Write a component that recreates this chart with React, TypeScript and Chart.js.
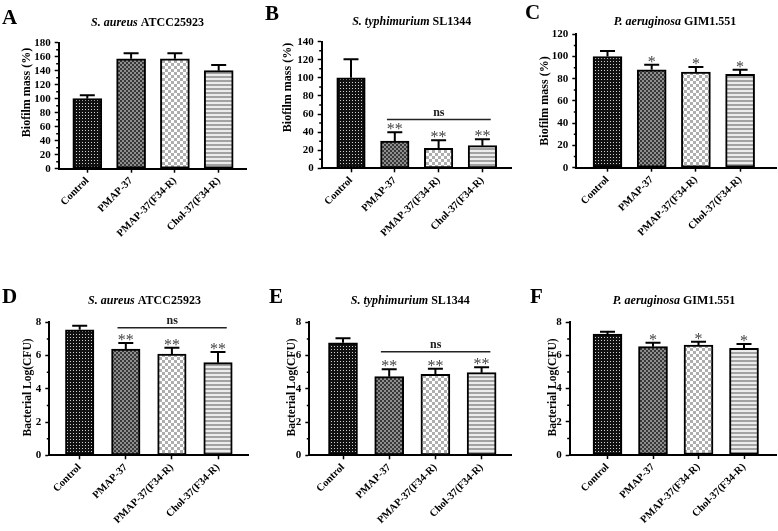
import React, { useEffect, useRef } from 'react';
import { Chart, registerables } from 'chart.js';

Chart.register(...registerables);

const FONT = '"Liberation Serif", "Times New Roman", serif';

// ---------- data ----------
const categories = ['Control', 'PMAP-37', 'PMAP-37(F34-R)', 'Chol-37(F34-R)'];

const biofilmSaureus = [100, 157, 157, 140];
const biofilmSaureusErr = [5, 8, 8, 8];
const biofilmStyphi = [100, 30, 22, 25];
const biofilmStyphiErr = [20.5, 10, 9, 7];
const biofilmPaer = [100, 88, 86, 84];
const biofilmPaerErr = [5, 4.5, 4.5, 4];

const logSaureus = [7.55, 6.39, 6.09, 5.57];
const logSaureusErr = [0.25, 0.36, 0.38, 0.64];
const logStyphi = [6.77, 4.73, 4.87, 4.97];
const logStyphiErr = [0.27, 0.44, 0.34, 0.32];
const logPaer = [7.29, 6.53, 6.63, 6.43];
const logPaerErr = [0.14, 0.24, 0.2, 0.26];

const sigNone = ['', '', '', ''];
const sigDouble = ['', '**', '**', '**'];
const sigSingle = ['', '*', '*', '*'];

const nsB = 54;
const nsD = 7.67;
const nsE = 6.23;

// ---------- layout ----------
type Panel = {
  letter: string;
  species: string;
  strain: string;
  yTitle: string;
  yTitleSize: number;
  values: number[];
  errors: number[];
  sig: string[];
  ns: number | null;
  yMax: number;
  yStep: number;
  left: number;
  right: number;
  top: number;
  bottom: number;
  xBox: number;
  firstCenter: number;
  spacing: number;
  barW: number;
  yTitleX: number;
  yTitleY: number;
  titleX: number;
  titleY: number;
  letterX: number;
  letterY: number;
};

const panels: Panel[] = [
  {
    letter: 'A', species: 'S. aureus', strain: 'ATCC25923', yTitle: 'Biofilm mass (%)', yTitleSize: 12,
    values: biofilmSaureus, errors: biofilmSaureusErr, sig: sigNone, ns: null, yMax: 180, yStep: 20,
    left: 58.7, right: 247, top: 42.7, bottom: 168.7, xBox: 100, firstCenter: 87.3, spacing: 43.8, barW: 29,
    yTitleX: 26.7, yTitleY: 92.5, titleX: 147.5, titleY: 25.5, letterX: 2, letterY: 24,
  },
  {
    letter: 'B', species: 'S. typhimurium', strain: 'SL1344', yTitle: 'Biofilm mass (%)', yTitleSize: 12,
    values: biofilmStyphi, errors: biofilmStyphiErr, sig: sigDouble, ns: nsB, yMax: 140, yStep: 20,
    left: 321.7, right: 512, top: 41.7, bottom: 168.3, xBox: 100, firstCenter: 351, spacing: 43.8, barW: 28.5,
    yTitleX: 288.3, yTitleY: 87.5, titleX: 411.7, titleY: 25, letterX: 265, letterY: 19.5,
  },
  {
    letter: 'C', species: 'P. aeruginosa', strain: 'GIM1.551', yTitle: 'Biofilm mass (%)', yTitleSize: 12,
    values: biofilmPaer, errors: biofilmPaerErr, sig: sigSingle, ns: null, yMax: 120, yStep: 20,
    left: 576.3, right: 776, top: 34.3, bottom: 167.7, xBox: 100, firstCenter: 607.5, spacing: 44.2, barW: 29,
    yTitleX: 544.7, yTitleY: 101, titleX: 675, titleY: 25, letterX: 525, letterY: 18.5,
  },
  {
    letter: 'D', species: 'S. aureus', strain: 'ATCC25923', yTitle: 'Bacterial Log(CFU)', yTitleSize: 11.5,
    values: logSaureus, errors: logSaureusErr, sig: sigDouble, ns: nsD, yMax: 8, yStep: 2,
    left: 49.3, right: 248, top: 322.3, bottom: 455.3, xBox: 75, firstCenter: 79.7, spacing: 46.1, barW: 28.5,
    yTitleX: 28.3, yTitleY: 387.5, titleX: 144.5, titleY: 303.5, letterX: 2, letterY: 303.3,
  },
  {
    letter: 'E', species: 'S. typhimurium', strain: 'SL1344', yTitle: 'Bacterial Log(CFU)', yTitleSize: 11.5,
    values: logStyphi, errors: logStyphiErr, sig: sigDouble, ns: nsE, yMax: 8, yStep: 2,
    left: 309.3, right: 511.7, top: 322.3, bottom: 455.3, xBox: 75, firstCenter: 343, spacing: 46.2, barW: 29,
    yTitleX: 291.7, yTitleY: 387.5, titleX: 410.3, titleY: 303.5, letterX: 269, letterY: 303.3,
  },
  {
    letter: 'F', species: 'P. aeruginosa', strain: 'GIM1.551', yTitle: 'Bacterial Log(CFU)', yTitleSize: 11.5,
    values: logPaer, errors: logPaerErr, sig: sigSingle, ns: null, yMax: 8, yStep: 2,
    left: 569.7, right: 776, top: 322.3, bottom: 455, xBox: 75, firstCenter: 607.5, spacing: 45.5, barW: 29,
    yTitleX: 553, yTitleY: 387.5, titleX: 674, titleY: 303.5, letterX: 530, letterY: 303.3,
  },
];

const W = 778;
const H = 531;
const Y_W = 40;

// ---------- patterns ----------
function tile(ctx: CanvasRenderingContext2D, w: number, h: number, draw: (g: CanvasRenderingContext2D) => void) {
  const c = document.createElement('canvas');
  c.width = w;
  c.height = h;
  const g = c.getContext('2d')!;
  draw(g);
  return ctx.createPattern(c, 'repeat')!;
}

function makePatterns(ctx: CanvasRenderingContext2D) {
  const dots = tile(ctx, 3, 3, (g) => {
    g.fillStyle = '#111';
    g.fillRect(0, 0, 3, 3);
    g.fillStyle = '#cfcfcf';
    g.fillRect(1, 1, 1, 1);
  });
  const darkCheck = tile(ctx, 4, 4, (g) => {
    g.fillStyle = '#8e8e8e';
    g.fillRect(0, 0, 4, 4);
    g.fillStyle = '#383838';
    g.fillRect(0, 0, 2, 2);
    g.fillRect(2, 2, 2, 2);
  });
  const lightCheck = tile(ctx, 6, 6, (g) => {
    g.fillStyle = '#ffffff';
    g.fillRect(0, 0, 6, 6);
    g.fillStyle = '#aeaeae';
    g.fillRect(0, 0, 3, 3);
    g.fillRect(3, 3, 3, 3);
  });
  const stripes = tile(ctx, 4, 4, (g) => {
    g.fillStyle = '#ececec';
    g.fillRect(0, 0, 4, 4);
    g.fillStyle = '#a2a2a2';
    g.fillRect(0, 0, 4, 2);
  });
  return [dots, darkCheck, lightCheck, stripes];
}

// ---------- extras plugin ----------
function extrasPlugin(p: Panel) {
  return {
    id: 'extras' + p.letter,
    afterDatasetsDraw(chart: any) {
      const ctx: CanvasRenderingContext2D = chart.ctx;
      const xs = chart.scales.x;
      const ys = chart.scales.y;
      ctx.save();
      p.values.forEach((v, i) => {
        const cx = xs.getPixelForValue(i);
        const topY = ys.getPixelForValue(v);
        const capY = ys.getPixelForValue(v + p.errors[i]);
        ctx.strokeStyle = '#000';
        ctx.lineWidth = 2;
        ctx.beginPath();
        ctx.moveTo(cx, topY);
        ctx.lineTo(cx, capY);
        ctx.moveTo(cx - 7.5, capY);
        ctx.lineTo(cx + 7.5, capY);
        ctx.stroke();
        if (p.sig[i]) {
          ctx.font = `16px ${FONT}`;
          ctx.fillStyle = '#444';
          ctx.textAlign = 'center';
          ctx.textBaseline = 'alphabetic';
          ctx.fillText(p.sig[i], cx, capY + 2);
        }
      });
      if (p.ns !== null) {
        const y = ys.getPixelForValue(p.ns);
        const x1 = xs.getPixelForValue(1 - 0.18);
        const x2 = xs.getPixelForValue(3 + 0.19);
        ctx.strokeStyle = '#222';
        ctx.lineWidth = 1.5;
        ctx.beginPath();
        ctx.moveTo(x1, y);
        ctx.lineTo(x2, y);
        ctx.stroke();
        ctx.font = `bold 12px ${FONT}`;
        ctx.fillStyle = '#222';
        ctx.textAlign = 'center';
        ctx.textBaseline = 'alphabetic';
        ctx.fillText('ns', (x1 + x2) / 2, y - 3.5);
      }
      ctx.restore();
    },
    afterDraw(chart: any) {
      const ctx: CanvasRenderingContext2D = chart.ctx;
      const ys = chart.scales.y;
      const axisX = chart.chartArea.left;
      ctx.save();
      // minor ticks
      ctx.strokeStyle = '#000';
      ctx.lineWidth = 1.5;
      ctx.beginPath();
      for (let v = p.yStep / 2; v < p.yMax; v += p.yStep) {
        const y = ys.getPixelForValue(v);
        ctx.moveTo(axisX - 2.5, y);
        ctx.lineTo(axisX, y);
      }
      ctx.stroke();
      // panel letter
      ctx.fillStyle = '#000';
      ctx.font = `bold 21px ${FONT}`;
      ctx.textAlign = 'left';
      ctx.textBaseline = 'alphabetic';
      ctx.fillText(p.letter, p.letterX, p.letterY);
      // title
      ctx.font = `italic bold 12px ${FONT}`;
      const w1 = ctx.measureText(p.species + ' ').width;
      ctx.font = `bold 12px ${FONT}`;
      const w2 = ctx.measureText(p.strain).width;
      const x0 = p.titleX - (w1 + w2) / 2;
      ctx.font = `italic bold 12px ${FONT}`;
      ctx.fillText(p.species + ' ', x0, p.titleY);
      ctx.font = `bold 12px ${FONT}`;
      ctx.fillText(p.strain, x0 + w1, p.titleY);
      // y title
      ctx.translate(p.yTitleX, p.yTitleY);
      ctx.rotate(-Math.PI / 2);
      ctx.font = `bold ${p.yTitleSize}px ${FONT}`;
      ctx.textAlign = 'center';
      ctx.textBaseline = 'middle';
      ctx.fillText(p.yTitle, 0, 0);
      ctx.restore();
    },
  };
}

function PanelChart({ panel }: { panel: Panel }) {
  const ref = useRef<HTMLCanvasElement>(null);
  useEffect(() => {
    const canvas = ref.current!;
    const ctx = canvas.getContext('2d')!;
    const patterns = makePatterns(ctx);
    const xMin = -(panel.firstCenter - panel.left) / panel.spacing;
    const xMax = xMin + (panel.right - panel.left) / panel.spacing;
    const tickFont = { family: FONT, size: 11, weight: 'bold' as const };
    const chart = new Chart(canvas, {
      type: 'bar',
      data: {
        datasets: [
          {
            data: panel.values.map((v, i) => ({ x: i, y: v })),
            backgroundColor: patterns as any,
            borderColor: '#000',
            borderWidth: 2,
            borderSkipped: false,
            barThickness: panel.barW,
          },
        ],
      },
      options: {
        animation: false,
        responsive: false,
        events: [],
        layout: {
          padding: {
            left: panel.left - Y_W,
            right: W - panel.right,
            top: panel.top,
            bottom: Math.max(0, H - panel.bottom - panel.xBox),
          },
        },
        plugins: {
          legend: { display: false },
          tooltip: { enabled: false },
          title: { display: false },
        },
        scales: {
          x: {
            type: 'linear',
            min: xMin,
            max: xMax,
            offset: false,
            afterBuildTicks: (s: any) => {
              s.ticks = categories.map((_, i) => ({ value: i }));
            },
            afterFit: (s: any) => {
              s.height = panel.xBox;
            },
            grid: {
              drawOnChartArea: false,
              drawTicks: true,
              tickLength: 4,
              tickWidth: 1.5,
              tickColor: '#000',
              offset: false,
            },
            border: { display: true, color: '#000', width: 2 },
            ticks: {
              autoSkip: false,
              minRotation: 45,
              maxRotation: 45,
              padding: 2,
              color: '#000',
              font: { family: FONT, size: 10.5, weight: 'bold' },
              callback: (v: any) => categories[Math.round(Number(v))] ?? '',
            },
          },
          y: {
            type: 'linear',
            min: 0,
            max: panel.yMax,
            afterFit: (s: any) => {
              s.width = Y_W;
            },
            grid: {
              drawOnChartArea: false,
              drawTicks: true,
              tickLength: 4,
              tickWidth: 1.5,
              tickColor: '#000',
            },
            border: { display: true, color: '#000', width: 2 },
            ticks: {
              stepSize: panel.yStep,
              autoSkip: false,
              padding: 4,
              color: '#000',
              font: tickFont,
            },
          },
        },
      },
      plugins: [extrasPlugin(panel)],
    } as any);
    return () => chart.destroy();
  }, [panel]);
  return (
    <canvas
      ref={ref}
      width={W}
      height={H}
      style={{ position: 'absolute', left: 0, top: 0, width: W, height: H }}
    />
  );
}

export default function App() {
  return (
    <div
      style={{
        position: 'fixed',
        left: 0,
        top: 0,
        width: W,
        height: H,
        background: '#fff',
        overflow: 'hidden',
      }}
    >
      {panels.map((p) => (
        <PanelChart key={p.letter} panel={p} />
      ))}
    </div>
  );
}
